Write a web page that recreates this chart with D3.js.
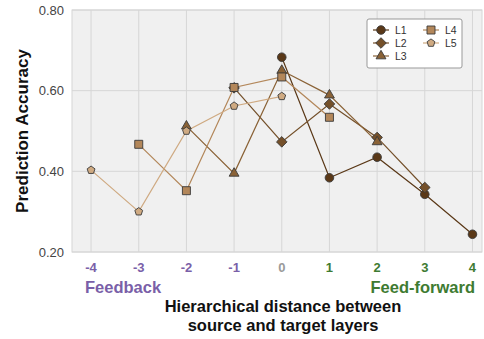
<!DOCTYPE html>
<html>
<head>
<meta charset="utf-8">
<script src="https://cdn.jsdelivr.net/npm/d3@7"></script>
<style>
  body { margin: 0; background: #fff; }
  svg { font-family: "Liberation Sans", Arial, sans-serif; }
</style>
</head>
<body>
<svg id="chart" width="484" height="339"></svg>
<script>
// hierarchical distance per layer (each layer sees 5 targets)
const L1_x = [0, 1, 2, 3, 4];
const L1_y = [0.683, 0.384, 0.435, 0.343, 0.244];
const L2_x = [-1, 0, 1, 2, 3];
const L2_y = [0.607, 0.473, 0.567, 0.484, 0.360];
const L3_x = [-2, -1, 0, 1, 2];
const L3_y = [0.512, 0.395, 0.650, 0.589, 0.473];
const L4_x = [-3, -2, -1, 0, 1];
const L4_y = [0.467, 0.352, 0.608, 0.634, 0.534];
const L5_x = [-4, -3, -2, -1, 0];
const L5_y = [0.403, 0.300, 0.500, 0.562, 0.586];

const xTicks = [-4, -3, -2, -1, 0, 1, 2, 3, 4];
const yTicks = [0.2, 0.4, 0.6, 0.8];
const layerNames = ["L1", "L2", "L3", "L4", "L5"];

// custom pentagon symbol for L5
const symbolPentagon = {
  draw(context, size) {
    const r = Math.sqrt(size / 2.378);
    for (let i = 0; i < 5; i++) {
      const a = -Math.PI / 2 + i * 2 * Math.PI / 5;
      const px = r * Math.cos(a), py = r * Math.sin(a);
      if (i === 0) context.moveTo(px, py); else context.lineTo(px, py);
    }
    context.closePath();
  }
};

// square diamond (equal width and height)
const symbolRhomb = {
  draw(context, size) {
    const r = Math.sqrt(size / 2);
    context.moveTo(0, -r);
    context.lineTo(r, 0);
    context.lineTo(0, r);
    context.lineTo(-r, 0);
    context.closePath();
  }
};

const series = [
  { name: "L1", xs: L1_x, ys: L1_y, color: "#5a3817", shape: d3.symbolCircle, size: 58 },
  { name: "L2", xs: L2_x, ys: L2_y, color: "#74502a", shape: symbolRhomb, size: 56 },
  { name: "L3", xs: L3_x, ys: L3_y, color: "#8a6236", shape: d3.symbolTriangle, size: 42 },
  { name: "L4", xs: L4_x, ys: L4_y, color: "#b3875a", shape: d3.symbolSquare, size: 64 },
  { name: "L5", xs: L5_x, ys: L5_y, color: "#cfaa82", shape: symbolPentagon, size: 40 }
];

const svg = d3.select("#chart");
const margin = { left: 72, top: 10, right: 2, bottom: 87 };
const W = 484, H = 339;

const x = d3.scaleLinear().domain([-4.4, 4.2]).range([margin.left, W - margin.right]);
const y = d3.scaleLinear().domain([0.2, 0.8]).range([H - margin.bottom, margin.top]);

// plot background
svg.append("rect")
  .attr("x", x(-4.4)).attr("y", y(0.8))
  .attr("width", x(4.2) - x(-4.4)).attr("height", y(0.2) - y(0.8))
  .attr("fill", "#f0f0f0").attr("stroke", "#d6d6d6");

// grid
svg.append("g").selectAll("line").data(xTicks).join("line")
  .attr("x1", d => x(d)).attr("x2", d => x(d))
  .attr("y1", y(0.8)).attr("y2", y(0.2))
  .attr("stroke", "#d6d6d6").attr("stroke-width", 1);
svg.append("g").selectAll("line").data(yTicks).join("line")
  .attr("x1", x(-4.4)).attr("x2", x(4.2))
  .attr("y1", d => y(d)).attr("y2", d => y(d))
  .attr("stroke", "#d6d6d6").attr("stroke-width", 1);

// y axis labels
svg.append("g").selectAll("text").data(yTicks).join("text")
  .attr("x", 64).attr("y", d => y(d) + 4.5)
  .attr("text-anchor", "end")
  .attr("font-size", 13).attr("fill", "#444")
  .text(d => d.toFixed(2));

svg.append("text")
  .attr("transform", "translate(28," + ((y(0.8) + y(0.2)) / 2) + ") rotate(-90)")
  .attr("text-anchor", "middle")
  .attr("font-size", 17).attr("font-weight", "bold").attr("fill", "#111")
  .text("Prediction Accuracy");

// x axis labels
function tickColor(d) {
  if (d < 0) return "#7a5fa8";
  if (d > 0) return "#3e7b32";
  return "#9a9a9a";
}
svg.append("g").selectAll("text").data(xTicks).join("text")
  .attr("x", d => x(d)).attr("y", 272)
  .attr("text-anchor", "middle")
  .attr("font-size", 13).attr("font-weight", "bold")
  .attr("fill", tickColor)
  .text(d => d);

svg.append("text")
  .attr("x", 85).attr("y", 293)
  .attr("font-size", 16.5).attr("font-weight", "bold").attr("fill", "#7a5fa8")
  .text("Feedback");
svg.append("text")
  .attr("x", 475).attr("y", 293)
  .attr("text-anchor", "end")
  .attr("font-size", 16.5).attr("font-weight", "bold").attr("fill", "#3e7b32")
  .text("Feed-forward");

svg.append("text")
  .attr("x", 283).attr("y", 312)
  .attr("text-anchor", "middle")
  .attr("font-size", 16.5).attr("font-weight", "bold").attr("fill", "#111")
  .text("Hierarchical distance between");
svg.append("text")
  .attr("x", 283).attr("y", 331)
  .attr("text-anchor", "middle")
  .attr("font-size", 16.5).attr("font-weight", "bold").attr("fill", "#111")
  .text("source and target layers");

// lines
const line = d3.line().x(d => x(d[0])).y(d => y(d[1]));
series.forEach(s => {
  const pts = s.xs.map((v, i) => [v, s.ys[i]]);
  svg.append("path")
    .datum(pts)
    .attr("d", line)
    .attr("fill", "none")
    .attr("stroke", s.color)
    .attr("stroke-width", 1.2);
});

// markers
series.forEach(s => {
  const pts = s.xs.map((v, i) => [v, s.ys[i]]);
  svg.append("g").selectAll("path").data(pts).join("path")
    .attr("transform", d => "translate(" + x(d[0]) + "," + y(d[1]) + ")")
    .attr("d", d3.symbol().type(s.shape).size(s.size))
    .attr("fill", s.color)
    .attr("stroke", "#3a3a3a")
    .attr("stroke-width", 0.9);
});

// legend
const lg = svg.append("g");
lg.append("rect")
  .attr("x", 367).attr("y", 19).attr("width", 95).attr("height", 49)
  .attr("rx", 2)
  .attr("fill", "#fff").attr("stroke", "#999").attr("stroke-width", 1);

series.forEach((s, i) => {
  const col = i < 3 ? 0 : 1;
  const row = i < 3 ? i : i - 3;
  const cx = 381 + col * 50;
  const cy = 30 + row * 13;
  lg.append("line")
    .attr("x1", cx - 8).attr("x2", cx + 8)
    .attr("y1", cy).attr("y2", cy)
    .attr("stroke", s.color).attr("stroke-width", 1.2);
  lg.append("path")
    .attr("transform", "translate(" + cx + "," + cy + ")")
    .attr("d", d3.symbol().type(s.shape).size(s.size))
    .attr("fill", s.color)
    .attr("stroke", "#3a3a3a")
    .attr("stroke-width", 0.9);
  lg.append("text")
    .attr("x", cx + 14).attr("y", cy + 3.5)
    .attr("font-size", 10.5).attr("fill", "#333")
    .text(layerNames[i]);
});
</script>
</body>
</html>
